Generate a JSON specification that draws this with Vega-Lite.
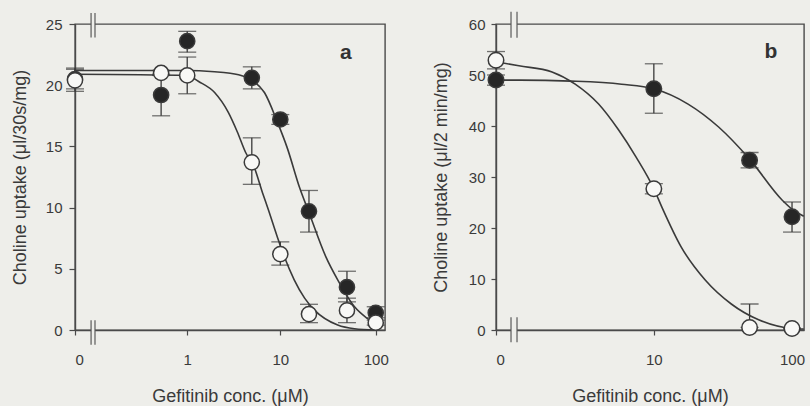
{
  "$schema": "https://vega.github.io/schema/vega-lite/v6.json",
  "background": "#eeeeea",
  "padding": {"left": 10, "top": 10, "right": 2, "bottom": 0},
  "config": {
    "font": "Liberation Sans",
    "view": {"stroke": "#4a4a4a", "strokeWidth": 1.4},
    "axis": {
      "grid": false,
      "domainColor": "#4a4a4a",
      "domainWidth": 1.4,
      "tickColor": "#4a4a4a",
      "tickWidth": 1.2,
      "labelColor": "#3a3a3a",
      "titleColor": "#3a3a3a",
      "labelFont": "Liberation Sans",
      "titleFont": "Liberation Sans",
      "labelFontSize": 15,
      "titleFontSize": 18,
      "titleFontWeight": "normal"
    }
  },
  "datasets": {
    "pointsA": [
      {"series": "closed", "conc": 0, "uptake": 20.5, "lo": 19.7, "hi": 21.3},
      {"series": "closed", "conc": 0.5, "uptake": 19.2, "lo": 17.5, "hi": 20.9},
      {"series": "closed", "conc": 1, "uptake": 23.6, "lo": 22.7, "hi": 24.4},
      {"series": "closed", "conc": 5, "uptake": 20.6, "lo": 19.7, "hi": 21.5},
      {"series": "closed", "conc": 10, "uptake": 17.2, "lo": 16.8, "hi": 17.6},
      {"series": "closed", "conc": 20, "uptake": 9.7, "lo": 8.0, "hi": 11.4},
      {"series": "closed", "conc": 50, "uptake": 3.5, "lo": 2.3, "hi": 4.8},
      {"series": "closed", "conc": 100, "uptake": 1.4, "lo": 1.0, "hi": 1.9},
      {"series": "open", "conc": 0, "uptake": 20.4, "lo": 19.5, "hi": 21.4},
      {"series": "open", "conc": 0.5, "uptake": 21.0, "lo": 20.8, "hi": 21.2},
      {"series": "open", "conc": 1, "uptake": 20.8, "lo": 19.3, "hi": 22.3},
      {"series": "open", "conc": 5, "uptake": 13.7, "lo": 11.9, "hi": 15.7},
      {"series": "open", "conc": 10, "uptake": 6.2, "lo": 5.3, "hi": 7.2},
      {"series": "open", "conc": 20, "uptake": 1.3, "lo": 0.6, "hi": 2.1},
      {"series": "open", "conc": 50, "uptake": 1.6, "lo": 0.6, "hi": 2.6},
      {"series": "open", "conc": 100, "uptake": 0.6, "lo": 0.4, "hi": 0.8}
    ],
    "curveA": [
      {"series": "closed", "conc": 0, "uptake": 21.2},
      {"series": "closed", "conc": 1, "uptake": 21.2},
      {"series": "closed", "conc": 2, "uptake": 21.1},
      {"series": "closed", "conc": 2.8, "uptake": 21.0},
      {"series": "closed", "conc": 4.2, "uptake": 20.7},
      {"series": "closed", "conc": 5.3, "uptake": 20.3},
      {"series": "closed", "conc": 6.8, "uptake": 19.4},
      {"series": "closed", "conc": 9.3, "uptake": 17.0},
      {"series": "closed", "conc": 11.8, "uptake": 14.9},
      {"series": "closed", "conc": 16, "uptake": 11.6},
      {"series": "closed", "conc": 20, "uptake": 9.6},
      {"series": "closed", "conc": 30, "uptake": 6.0},
      {"series": "closed", "conc": 40, "uptake": 4.1},
      {"series": "closed", "conc": 60, "uptake": 1.9},
      {"series": "closed", "conc": 80, "uptake": 1.0},
      {"series": "closed", "conc": 100, "uptake": 0.5},
      {"series": "open", "conc": 0, "uptake": 20.9},
      {"series": "open", "conc": 1, "uptake": 20.8},
      {"series": "open", "conc": 1.34, "uptake": 20.3},
      {"series": "open", "conc": 2, "uptake": 19.4},
      {"series": "open", "conc": 2.8, "uptake": 17.8},
      {"series": "open", "conc": 3.5, "uptake": 16.2},
      {"series": "open", "conc": 4.3, "uptake": 14.5},
      {"series": "open", "conc": 5.3, "uptake": 13.3},
      {"series": "open", "conc": 6.5, "uptake": 11.2},
      {"series": "open", "conc": 7.5, "uptake": 9.8},
      {"series": "open", "conc": 9.3, "uptake": 7.6},
      {"series": "open", "conc": 11, "uptake": 6.0},
      {"series": "open", "conc": 14, "uptake": 4.1},
      {"series": "open", "conc": 18, "uptake": 2.6},
      {"series": "open", "conc": 23, "uptake": 1.6},
      {"series": "open", "conc": 40, "uptake": 0.4},
      {"series": "open", "conc": 60, "uptake": 0.1},
      {"series": "open", "conc": 100, "uptake": 0.0}
    ],
    "pointsB": [
      {"series": "closed", "conc": 0, "uptake": 49.0, "lo": 48.0, "hi": 50.0},
      {"series": "closed", "conc": 10, "uptake": 47.3, "lo": 42.5, "hi": 52.2},
      {"series": "closed", "conc": 50, "uptake": 33.3, "lo": 31.8, "hi": 34.8},
      {"series": "closed", "conc": 100, "uptake": 22.2, "lo": 19.2, "hi": 25.1},
      {"series": "open", "conc": 0, "uptake": 52.9, "lo": 51.2, "hi": 54.6},
      {"series": "open", "conc": 10, "uptake": 27.7, "lo": 26.7, "hi": 28.7},
      {"series": "open", "conc": 50, "uptake": 0.5, "lo": 0.5, "hi": 5.1},
      {"series": "open", "conc": 100, "uptake": 0.3, "lo": 0.2, "hi": 0.4}
    ],
    "curveB": [
      {"series": "closed", "conc": 0, "uptake": 49.0},
      {"series": "closed", "conc": 0.4, "uptake": 49.0},
      {"series": "closed", "conc": 2, "uptake": 48.8},
      {"series": "closed", "conc": 5.6, "uptake": 48.2},
      {"series": "closed", "conc": 10, "uptake": 47.3},
      {"series": "closed", "conc": 18, "uptake": 44.3},
      {"series": "closed", "conc": 30, "uptake": 39.8},
      {"series": "closed", "conc": 50, "uptake": 33.5},
      {"series": "closed", "conc": 85, "uptake": 25.5},
      {"series": "closed", "conc": 100, "uptake": 23.7},
      {"series": "closed", "conc": 121, "uptake": 22.3},
      {"series": "open", "conc": 0, "uptake": 52.6},
      {"series": "open", "conc": 0.38, "uptake": 51.8},
      {"series": "open", "conc": 1.25, "uptake": 50.6},
      {"series": "open", "conc": 2.2, "uptake": 48.2},
      {"series": "open", "conc": 3.6, "uptake": 44.3},
      {"series": "open", "conc": 5.3, "uptake": 39.2},
      {"series": "open", "conc": 7.3, "uptake": 33.9},
      {"series": "open", "conc": 10, "uptake": 27.7},
      {"series": "open", "conc": 11.5, "uptake": 24.1},
      {"series": "open", "conc": 16, "uptake": 16.3},
      {"series": "open", "conc": 24, "uptake": 9.8},
      {"series": "open", "conc": 37, "uptake": 5.1},
      {"series": "open", "conc": 58, "uptake": 2.0},
      {"series": "open", "conc": 100, "uptake": 0.3},
      {"series": "open", "conc": 121, "uptake": 0.2}
    ]
  },
  "spacing": 42,
  "hconcat": [
    {
      "width": 310,
      "height": 306,
      "layer": [
        {
          "data": {"name": "curveA"},
          "mark": {"type": "line", "interpolate": "monotone", "color": "#3a3a3a", "strokeWidth": 1.6},
          "encoding": {
            "x": {
              "field": "conc", "type": "quantitative",
              "scale": {"type": "symlog", "constant": 0.072, "domain": [0, 125], "nice": false},
              "axis": {"values": [0, 1, 10, 100], "format": "d", "tickSize": 5, "labelPadding": 17, "titlePadding": 20, "title": "Gefitinib conc. (μM)"}
            },
            "y": {
              "field": "uptake", "type": "quantitative",
              "scale": {"domain": [0, 25], "nice": false},
              "axis": {"values": [0, 5, 10, 15, 20, 25], "tickSize": 6, "labelPadding": 7, "titlePadding": 16, "title": "Choline uptake (μl/30s/mg)"}
            },
            "detail": {"field": "series"}
          }
        },
        {
          "data": {"name": "pointsA"},
          "mark": {"type": "errorbar", "ticks": {"size": 18, "thickness": 1.3, "color": "#3a3a3a"}, "rule": {"strokeWidth": 1.3, "color": "#3a3a3a"}},
          "encoding": {
            "x": {"field": "conc", "type": "quantitative", "title": "Gefitinib conc. (μM)"},
            "y": {"field": "lo", "type": "quantitative", "title": "Choline uptake (μl/30s/mg)"},
            "y2": {"field": "hi"}
          }
        },
        {
          "data": {"name": "pointsA"},
          "mark": {"type": "point", "shape": "circle", "size": 230, "filled": false, "strokeWidth": 1.5, "stroke": "#3a3a3a", "opacity": 1},
          "encoding": {
            "x": {"field": "conc", "type": "quantitative", "title": "Gefitinib conc. (μM)"},
            "y": {"field": "uptake", "type": "quantitative", "title": "Choline uptake (μl/30s/mg)"},
            "fill": {"field": "series", "type": "nominal", "scale": {"domain": ["closed", "open"], "range": ["#262626", "#f8f8f6"]}, "legend": null}
          }
        },
        {
          "data": {"values": [{}]},
          "layer": [
            {
              "mark": {"type": "rect", "color": "#eeeeea"},
              "encoding": {"x": {"datum": 0.034}, "x2": {"datum": 0.0445}, "y": {"datum": -0.25}, "y2": {"datum": 0.25}}
            },
            {
              "mark": {"type": "rect", "color": "#eeeeea"},
              "encoding": {"x": {"datum": 0.034}, "x2": {"datum": 0.0445}, "y": {"datum": 24.75}, "y2": {"datum": 25.25}}
            },
            {
              "mark": {"type": "rule", "color": "#5a5a5a", "strokeWidth": 1.2},
              "encoding": {"x": {"datum": 0.034}, "y": {"datum": -1.2}, "y2": {"datum": 0.8}}
            },
            {
              "mark": {"type": "rule", "color": "#5a5a5a", "strokeWidth": 1.2},
              "encoding": {"x": {"datum": 0.0445}, "y": {"datum": -1.2}, "y2": {"datum": 0.8}}
            },
            {
              "mark": {"type": "rule", "color": "#5a5a5a", "strokeWidth": 1.2},
              "encoding": {"x": {"datum": 0.034}, "y": {"datum": 23.9}, "y2": {"datum": 25.9}}
            },
            {
              "mark": {"type": "rule", "color": "#5a5a5a", "strokeWidth": 1.2},
              "encoding": {"x": {"datum": 0.0445}, "y": {"datum": 23.9}, "y2": {"datum": 25.9}}
            },
            {
              "mark": {"type": "text", "text": "a", "fontSize": 21, "fontWeight": "bold", "color": "#333333"},
              "encoding": {"x": {"datum": 48.8}, "y": {"datum": 22.6}}
            }
          ]
        }
      ]
    },
    {
      "width": 308,
      "height": 306,
      "layer": [
        {
          "data": {"name": "curveB"},
          "mark": {"type": "line", "interpolate": "monotone", "color": "#3a3a3a", "strokeWidth": 1.6},
          "encoding": {
            "x": {
              "field": "conc", "type": "quantitative",
              "scale": {"type": "symlog", "constant": 0.85, "domain": [0, 121.5], "nice": false},
              "axis": {"values": [0, 10, 100], "format": "d", "tickSize": 5, "labelPadding": 17, "titlePadding": 20, "title": "Gefitinib conc. (μM)"}
            },
            "y": {
              "field": "uptake", "type": "quantitative",
              "scale": {"domain": [0, 60], "nice": false},
              "axis": {"values": [0, 10, 20, 30, 40, 50, 60], "tickSize": 5, "labelPadding": 6, "titlePadding": 18, "title": "Choline uptake (μl/2 min/mg)"}
            },
            "detail": {"field": "series"}
          }
        },
        {
          "data": {"name": "pointsB"},
          "mark": {"type": "errorbar", "ticks": {"size": 18, "thickness": 1.3, "color": "#3a3a3a"}, "rule": {"strokeWidth": 1.3, "color": "#3a3a3a"}},
          "encoding": {
            "x": {"field": "conc", "type": "quantitative", "title": "Gefitinib conc. (μM)"},
            "y": {"field": "lo", "type": "quantitative", "title": "Choline uptake (μl/2 min/mg)"},
            "y2": {"field": "hi"}
          }
        },
        {
          "data": {"name": "pointsB"},
          "mark": {"type": "point", "shape": "circle", "size": 240, "filled": false, "strokeWidth": 1.5, "stroke": "#3a3a3a", "opacity": 1},
          "encoding": {
            "x": {"field": "conc", "type": "quantitative", "title": "Gefitinib conc. (μM)"},
            "y": {"field": "uptake", "type": "quantitative", "title": "Choline uptake (μl/2 min/mg)"},
            "fill": {"field": "series", "type": "nominal", "scale": {"domain": ["closed", "open"], "range": ["#262626", "#f8f8f6"]}, "legend": null}
          }
        },
        {
          "data": {"values": [{}]},
          "layer": [
            {
              "mark": {"type": "rect", "color": "#eeeeea"},
              "encoding": {"x": {"datum": 0.233}, "x2": {"datum": 0.343}, "y": {"datum": -0.6}, "y2": {"datum": 0.6}}
            },
            {
              "mark": {"type": "rect", "color": "#eeeeea"},
              "encoding": {"x": {"datum": 0.233}, "x2": {"datum": 0.343}, "y": {"datum": 59.4}, "y2": {"datum": 60.6}}
            },
            {
              "mark": {"type": "rule", "color": "#5a5a5a", "strokeWidth": 1.2},
              "encoding": {"x": {"datum": 0.233}, "y": {"datum": -2.4}, "y2": {"datum": 2.5}}
            },
            {
              "mark": {"type": "rule", "color": "#5a5a5a", "strokeWidth": 1.2},
              "encoding": {"x": {"datum": 0.343}, "y": {"datum": -2.4}, "y2": {"datum": 2.5}}
            },
            {
              "mark": {"type": "rule", "color": "#5a5a5a", "strokeWidth": 1.2},
              "encoding": {"x": {"datum": 0.233}, "y": {"datum": 57.3}, "y2": {"datum": 62.4}}
            },
            {
              "mark": {"type": "rule", "color": "#5a5a5a", "strokeWidth": 1.2},
              "encoding": {"x": {"datum": 0.343}, "y": {"datum": 57.3}, "y2": {"datum": 62.4}}
            },
            {
              "mark": {"type": "text", "text": "b", "fontSize": 21, "fontWeight": "bold", "color": "#333333"},
              "encoding": {"x": {"datum": 71}, "y": {"datum": 54.5}}
            }
          ]
        }
      ]
    }
  ]
}
